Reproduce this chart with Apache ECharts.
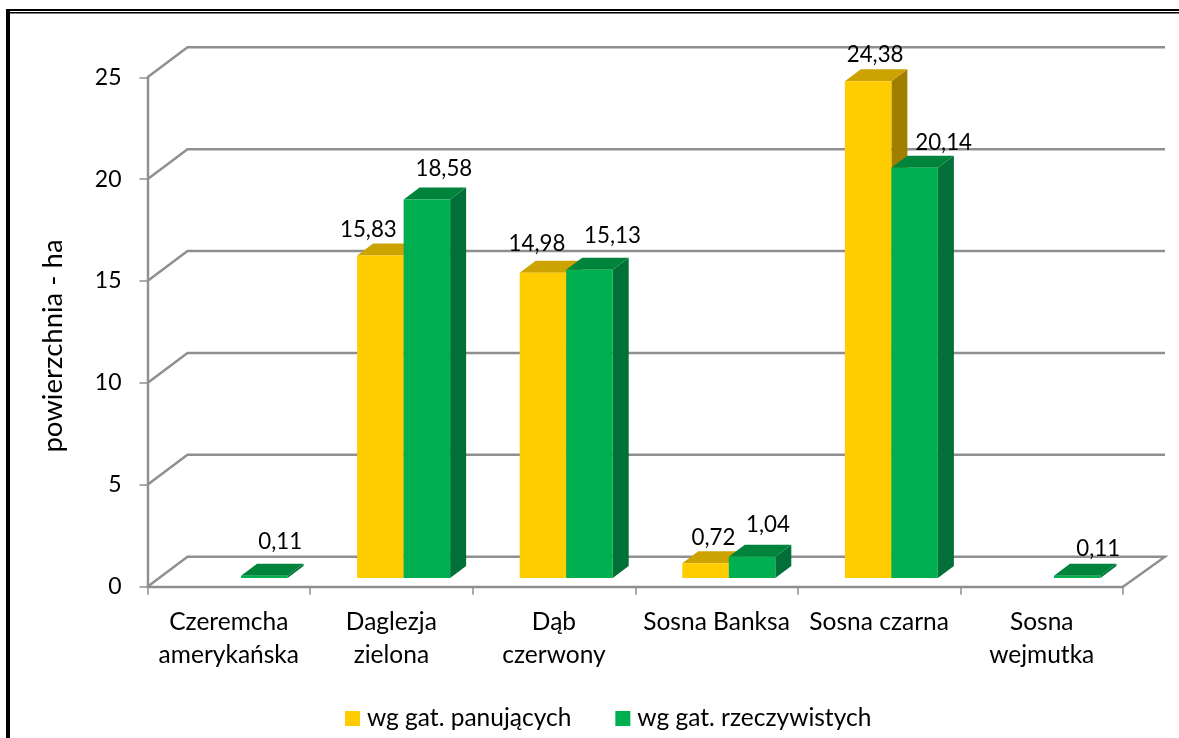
<!DOCTYPE html>
<html><head><meta charset="utf-8">
<style>html,body{margin:0;padding:0;background:#fff}#c{width:1179px;height:738px}</style>
<script src="https://cdn.jsdelivr.net/npm/echarts@6/dist/echarts.min.js"></script>
</head><body><div id="c"></div>
<script>
const categories = ['Czeremcha\namerykańska','Daglezja\nzielona','Dąb\nczerwony','Sosna Banksa','Sosna czarna','Sosna\nwejmutka'];
const panujacych = [null,15.83,14.98,0.72,24.38,null];
const rzeczywistych = [0.11,18.58,15.13,1.04,20.14,0.11];
const yTicks = [0,5,10,15,20,25];
const seriesNames = ['wg gat. panujących','wg gat. rzeczywistych'];
const yTitle = 'powierzchnia - ha';

// layout constants (pixels)
const FONT='Lato';
const WALL_DX=40, WALL_DX_R=42, WALL_DY=30;
const BAR_W=46.5, BAR_DX=12.25, BAR_DY=8.7, DEPTH_X=16, DEPTH_Y=12;
const GRID_C='#8f8f8f';
const palette=[{f:'#FFCC00',t:'#CCA300',s:'#A07F00'},{f:'#00B050',t:'#00843C',s:'#007038'}];
const nudge=[
 [[0,0],[-12,-26],[-6,-29],[8,-26],[7,-26],[0,0]],
 [[16,-34],[17,-31],[23,-34],[16,-32],[29,-25],[21,-27]]
];
const fmt=v=>v.toFixed(2).replace('.',',');

function wall(params,api){
  const cs=params.coordSys, v=api.value(0);
  const y=api.coord([0,v])[1], L=cs.x, R=cs.x+cs.width;
  const pts=v===0
    ?[[L,y],[L+WALL_DX,y-WALL_DY],[R+WALL_DX_R,y-WALL_DY],[R,y]]
    :[[L,y],[L+WALL_DX,y-WALL_DY],[R+WALL_DX_R,y-WALL_DY]];
  return {type:'polyline',shape:{points:pts},style:{stroke:GRID_C,lineWidth:2.4,fill:null},silent:true};
}
function bars(si){
  return function(params,api){
    const v=api.value(1);
    if(v==null||isNaN(v)) return null;
    const i=api.value(0), c=api.coord([i,v]), b=api.coord([i,0]);
    const x0=c[0]+BAR_DX+(si-1)*BAR_W, x1=x0+BAR_W, top=c[1]-BAR_DY, bot=b[1]-BAR_DY;
    const col=palette[si], n=nudge[si][i];
    const poly=(pts,f)=>({type:'polygon',shape:{points:pts},style:{fill:f,stroke:null}});
    return {type:'group',children:[
      poly([[x1,top],[x1+DEPTH_X,top-DEPTH_Y],[x1+DEPTH_X,bot-DEPTH_Y],[x1,bot]],col.s),
      poly([[x0,top],[x0+DEPTH_X,top-DEPTH_Y],[x1+DEPTH_X,top-DEPTH_Y],[x1,top]],col.t),
      {type:'rect',shape:{x:x0,y:top,width:BAR_W,height:bot-top},style:{fill:col.f}},
      {type:'text',z2:100,style:{text:fmt(v),x:x0+BAR_W/2+n[0],y:top+n[1],align:'center',verticalAlign:'middle',
        font:'22.3px '+FONT,fill:'#000'}}
    ]};
  };
}
const chart=echarts.init(document.getElementById('c'),null,{renderer:'canvas'});
chart.setOption({
  animation:false,
  backgroundColor:'#fff',
  textStyle:{fontFamily:FONT},
  grid:{left:147.5,right:56,top:77.3,bottom:151.3,containLabel:false},
  xAxis:{type:'category',data:categories,boundaryGap:true,
    axisLine:{lineStyle:{color:GRID_C,width:2.4}},
    axisTick:{show:true,length:8,alignWithLabel:false,lineStyle:{color:GRID_C,width:1.5}},
    axisLabel:{fontFamily:FONT,fontSize:24.5,color:'#000',lineHeight:33,margin:19,interval:0},
    splitLine:{show:false}},
  yAxis:{type:'value',min:0,max:25,interval:5,
    name:yTitle,nameLocation:'middle',nameGap:80,nameRotate:90,
    nameTextStyle:{fontFamily:FONT,fontSize:27.5,color:'#000',padding:[0,28,0,0]},
    axisLine:{show:true,lineStyle:{color:GRID_C,width:2.4}},
    axisTick:{show:true,length:8,lineStyle:{color:GRID_C,width:1.5}},
    axisLabel:{fontFamily:FONT,fontSize:23,color:'#000',margin:26,padding:[3,0,0,0]},
    splitLine:{show:false}},
  legend:{left:340,top:701,itemWidth:15,itemHeight:15,itemGap:44,icon:'rect',
    data:seriesNames,textStyle:{fontFamily:FONT,fontSize:24.5,color:'#000',padding:[0,0,0,2]}},
  graphic:[
    {type:'rect',silent:true,shape:{x:6,y:9,width:1173,height:2},style:{fill:'#000'}},
    {type:'rect',silent:true,shape:{x:6,y:12,width:1173,height:1.5},style:{fill:'#000'}},
    {type:'rect',silent:true,shape:{x:6,y:9,width:4,height:729},style:{fill:'#000'}}
  ],
  series:[
    {type:'custom',name:'wall',coordinateSystem:'cartesian2d',clip:false,silent:true,z:1,
      data:yTicks.map(v=>[v]),encode:{y:0},renderItem:wall},
    {type:'custom',name:seriesNames[0],coordinateSystem:'cartesian2d',clip:false,z:3,itemStyle:{color:palette[0].f},
      data:panujacych.map((v,i)=>[i,v]),encode:{x:0,y:1},renderItem:bars(0)},
    {type:'custom',name:seriesNames[1],coordinateSystem:'cartesian2d',clip:false,z:3,itemStyle:{color:palette[1].f},
      data:rzeczywistych.map((v,i)=>[i,v]),encode:{x:0,y:1},renderItem:bars(1)}
  ]
});
</script></body></html>
